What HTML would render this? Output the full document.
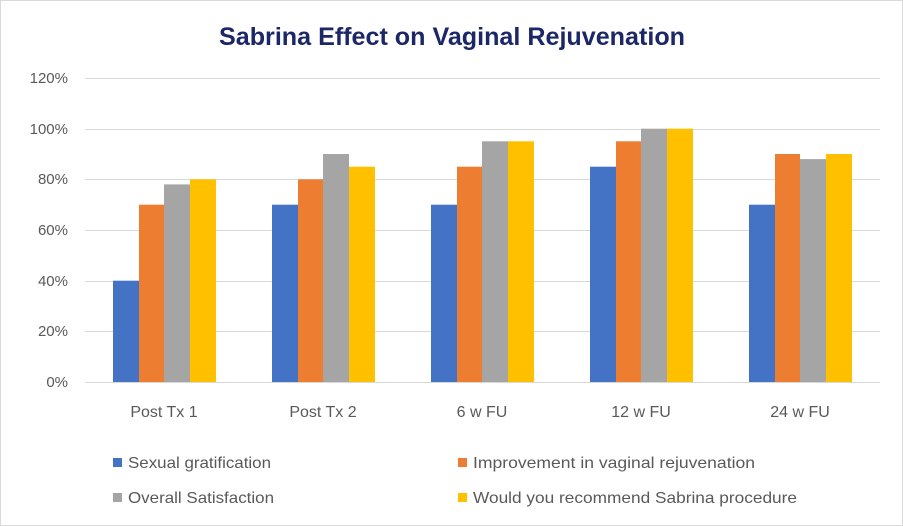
<!DOCTYPE html>
<html><head><style>body{margin:0;background:#fff}svg{display:block}text{font-family:"Liberation Sans",sans-serif}</style></head><body>
<svg width="903" height="526" xmlns="http://www.w3.org/2000/svg">
<rect x="0.5" y="0.5" width="902" height="525" fill="#fff" stroke="#d9d9d9"/>
<text x="452" y="45" text-anchor="middle" font-size="25" font-weight="bold" fill="#1b2766" textLength="466" lengthAdjust="spacingAndGlyphs">Sabrina Effect on Vaginal Rejuvenation</text>
<g stroke="#d9d9d9" stroke-width="1">
<line x1="85" x2="880" y1="78.5" y2="78.5"/><line x1="85" x2="880" y1="129.5" y2="129.5"/><line x1="85" x2="880" y1="179.5" y2="179.5"/><line x1="85" x2="880" y1="230.5" y2="230.5"/><line x1="85" x2="880" y1="281.5" y2="281.5"/><line x1="85" x2="880" y1="331.5" y2="331.5"/><line x1="85" x2="880" y1="382.5" y2="382.5"/>
</g>
<g font-size="15" fill="#595959" text-anchor="end">
<text x="68" y="83">120%</text><text x="68" y="134">100%</text><text x="68" y="184">80%</text><text x="68" y="235">60%</text><text x="68" y="286">40%</text><text x="68" y="336">20%</text><text x="68" y="387">0%</text>
</g>
<g font-size="16" fill="#595959" text-anchor="middle">
<text x="164" y="417">Post Tx 1</text><text x="323" y="417">Post Tx 2</text><text x="482" y="417">6 w FU</text><text x="641" y="417">12 w FU</text><text x="800" y="417">24 w FU</text>
</g>
<g font-size="16" fill="#595959">
<rect x="113" y="458" width="9" height="9" fill="#4472c4"/><text x="128" y="468" textLength="143" lengthAdjust="spacingAndGlyphs">Sexual gratification</text>
<rect x="458" y="458" width="9" height="9" fill="#ed7d31"/><text x="473" y="468" textLength="282" lengthAdjust="spacingAndGlyphs">Improvement in vaginal rejuvenation</text>
<rect x="113" y="493" width="9" height="9" fill="#a5a5a5"/><text x="128" y="503" textLength="146" lengthAdjust="spacingAndGlyphs">Overall Satisfaction</text>
<rect x="458" y="493" width="9" height="9" fill="#ffc000"/><text x="473" y="503" textLength="324" lengthAdjust="spacingAndGlyphs">Would you recommend Sabrina procedure</text>
</g>
<g>
<rect x="113" y="280.7" width="26" height="101.3" fill="#4472c4"/>
<rect x="139" y="204.7" width="25" height="177.3" fill="#ed7d31"/>
<rect x="164" y="184.4" width="26" height="197.6" fill="#a5a5a5"/>
<rect x="190" y="179.3" width="26" height="202.7" fill="#ffc000"/>
<rect x="272" y="204.7" width="26" height="177.3" fill="#4472c4"/>
<rect x="298" y="179.3" width="25" height="202.7" fill="#ed7d31"/>
<rect x="323" y="154" width="26" height="228" fill="#a5a5a5"/>
<rect x="349" y="166.7" width="26" height="215.3" fill="#ffc000"/>
<rect x="431" y="204.7" width="26" height="177.3" fill="#4472c4"/>
<rect x="457" y="166.7" width="25" height="215.3" fill="#ed7d31"/>
<rect x="482" y="141.3" width="26" height="240.7" fill="#a5a5a5"/>
<rect x="508" y="141.3" width="26" height="240.7" fill="#ffc000"/>
<rect x="590" y="166.7" width="26" height="215.3" fill="#4472c4"/>
<rect x="616" y="141.3" width="25" height="240.7" fill="#ed7d31"/>
<rect x="641" y="128.7" width="26" height="253.3" fill="#a5a5a5"/>
<rect x="667" y="128.7" width="26" height="253.3" fill="#ffc000"/>
<rect x="749" y="204.7" width="26" height="177.3" fill="#4472c4"/>
<rect x="775" y="154" width="25" height="228" fill="#ed7d31"/>
<rect x="800" y="159.1" width="26" height="222.9" fill="#a5a5a5"/>
<rect x="826" y="154" width="26" height="228" fill="#ffc000"/>
</g>
</svg>
</body></html>
